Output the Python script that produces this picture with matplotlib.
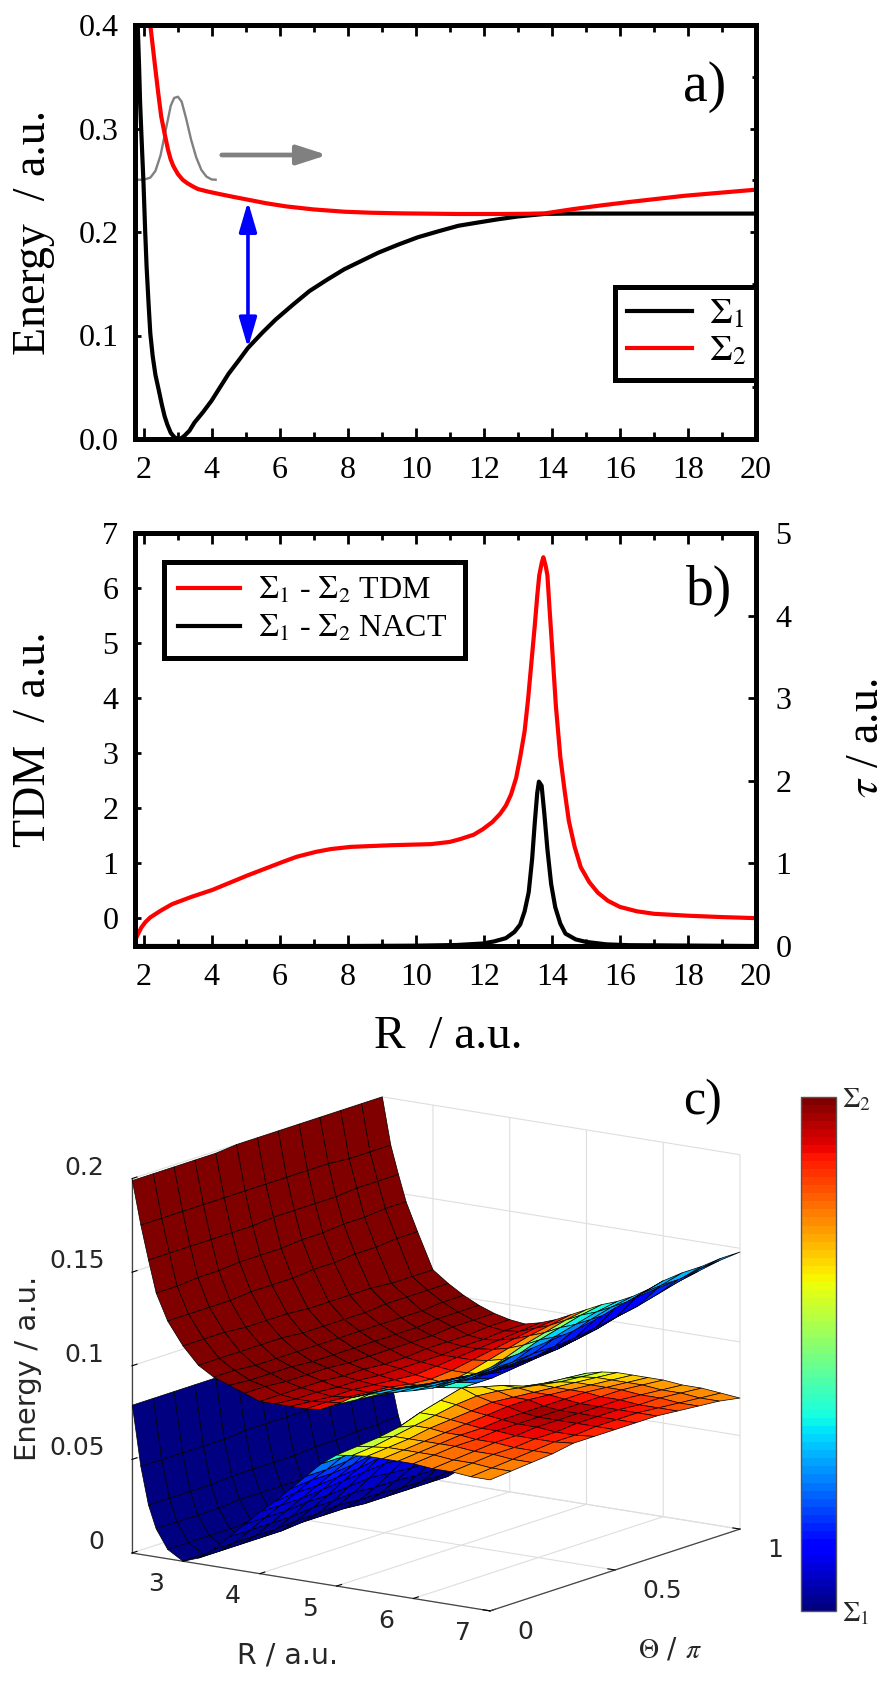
import numpy as np
import matplotlib
matplotlib.use("Agg")
import matplotlib.pyplot as plt
from matplotlib.cm import ScalarMappable
from matplotlib.colors import Normalize
from matplotlib.ticker import MultipleLocator
from mpl_toolkits.mplot3d import proj3d
from mpl_toolkits.mplot3d.art3d import Poly3DCollection

W, H = 896, 1688
plt.rcParams["font.family"] = ["Liberation Serif", "DejaVu Serif"]
plt.rcParams["mathtext.fontset"] = "stix"

# Panel a: potential energy curves
S1_R = [1.83, 1.87, 1.9, 1.95, 2.0, 2.05, 2.09, 2.15, 2.2, 2.27, 2.35, 2.45, 2.54, 2.62, 2.7, 2.8, 2.9, 3.0, 3.1, 3.2,
        3.35, 3.5, 3.75, 4.0, 4.25, 4.5, 4.8, 5.07, 5.5, 5.88, 6.4, 6.88, 7.4, 7.9, 8.4, 8.9, 9.5, 10.07, 10.7, 11.25,
        11.8, 12.4, 13.0, 13.8, 14.5, 16, 18, 20]
S1_E = [.40, .36, .325, .285, .247, .2, .167, .13, .102, .08, .062, .047, .033, .022, .014, .006, .002, .0, .0005, .003,
        .008, .016, .026, .037, .05, .063, .076, .088, .103, .1153, .130, .143, .154, .164, .172, .18, .188, .195, .201,
        .206, .209, .2122, .215, .2175, .2178, .2178, .2178, .2178]
S2_R = [2.2, 2.27, 2.34, 2.43, 2.52, 2.62, 2.72, 2.8, 2.88, 3.01, 3.15, 3.27, 3.45, 3.6, 3.9, 4.2, 4.6, 5.07, 5.6, 6.2,
        7.0, 7.9, 8.7, 9.6, 11.25, 12.5, 13.3, 13.8, 14.6, 15.4, 16.25, 17.9, 20]
S2_E = [.40, .38, .36, .335, .3117, .295, .2796, .27, .2635, .256, .2505, .2475, .244, .2415, .239, .2369, .2342, .2312,
        .2278, .2247, .2218, .2196, .2186, .218, .2174, .2174, .2176, .218, .222, .2255, .2289, .235, .2409]
PACKET_R = [1.8, 2.0, 2.2, 2.35, 2.5, 2.65, 2.8, 2.9, 3.01, 3.12, 3.25, 3.4, 3.55, 3.7, 3.85, 4.0, 4.12]
PACKET_E = [.2505, .2505, .2525, .259, .274, .298, .322, .3295, .3307, .326, .310, .289, .272, .26, .2535, .2508, .2505]

# Panel b: couplings
TDM_R = [1.75, 1.85, 1.93, 2.05, 2.2, 2.5, 2.84, 3.4, 4.03, 4.5, 5.05, 6.06, 6.5, 7.07, 7.5, 8.09, 9.27, 10.45, 11.0,
         11.3, 11.7, 11.97, 12.25, 12.48, 12.65, 12.8, 12.95, 13.07, 13.2, 13.3, 13.4, 13.5, 13.57, 13.63, 13.7, 13.75,
         13.82, 13.87, 13.93, 14.0, 14.12, 14.25, 14.38, 14.5, 14.67, 14.85, 15.1, 15.35, 15.65, 16, 16.5, 17, 18, 19, 20]
TDM_V = [-.40, -.27, -.17, -.07, .02, .14, .26, .39, .52, .64, .78, 1.02, 1.12, 1.21, 1.26, 1.30, 1.33, 1.35, 1.39,
         1.44, 1.52, 1.62, 1.75, 1.9, 2.05, 2.25, 2.55, 2.93, 3.4, 3.97, 4.65, 5.33, 5.85, 6.23, 6.45, 6.56,
         6.4, 6.23, 5.65, 5.0, 3.85, 2.93, 2.3, 1.77, 1.3, .93, .66, .47, .32, .21, .13, .085, .05, .025, .006]
NACT_R = [1.75, 8, 10, 11.2, 11.97, 12.3, 12.65, 12.9, 13.07, 13.2, 13.32, 13.42, 13.5, 13.57, 13.62, 13.7, 13.78, 13.87,
          13.98, 14.1, 14.25, 14.4, 14.7, 15, 15.6, 16.25, 20]
NACT_V = [.0, .0, .004, .012, .03, .055, .095, .17, .26, .42, .65, 1.05, 1.5, 1.85, 1.99, 1.94, 1.6, 1.17,
          .75, .47, .27, .15, .08, .05, .02, .01, .0]

# Panel c: surfaces on an (R, theta) mesh, energies in 1e-3 a.u., character in percent
R_GRID = [2.34, 2.45, 2.55, 2.65, 2.8, 3.0, 3.2, 3.4, 3.6, 3.8, 4.0, 4.2, 4.4, 4.6, 4.8, 5.0, 5.2, 5.4, 5.6, 5.8,
          6.0, 6.25, 6.5, 6.75, 7.0]
THETA_GRID = [0, 1/12, 2/12, 3/12, 4/12, 5/12, 6/12, 7/12, 8/12, 9/12, 10/12, 11/12, 1]
S1_Z = [
    [79, 79, 79, 79, 79, 78, 78, 78, 78, 77, 77, 77, 77],
    [47, 47, 47, 47, 47, 48, 48, 48, 48, 49, 49, 50, 50],
    [27, 27, 27, 27, 28, 28, 28, 28, 29, 29, 30, 30, 31],
    [15, 15, 15, 15, 16, 16, 16, 16, 16, 17, 17, 17, 18],
    [5, 5, 5, 5, 6, 6, 6, 6, 6, 6, 6, 6, 6],
    [0, 0, 0, 0, 0, 1, 1, 1, 1, 1, 1, 1, 1],
    [3, 3, 3, 3, 3, 4, 4, 4, 3, 3, 3, 3, 3],
    [9, 9, 9, 9, 10, 10, 11, 10, 10, 9, 9, 9, 9],
    [17, 17, 17, 17, 18, 18, 19, 18, 18, 17, 17, 16, 16],
    [25, 25, 25, 26, 26, 27, 28, 27, 26, 26, 25, 25, 24],
    [33, 33, 33, 34, 35, 36, 37, 36, 35, 35, 34, 33, 33],
    [40, 41, 41, 42, 43, 45, 46, 45, 44, 43, 42, 41, 41],
    [48, 49, 49, 50, 52, 54, 56, 54, 52, 51, 50, 49, 49],
    [56, 56, 57, 59, 61, 64, 66, 64, 61, 59, 58, 57, 57],
    [64, 64, 65, 68, 71, 74, 77, 74, 71, 68, 66, 65, 65],
    [70, 71, 72, 74, 78, 81, 84, 81, 78, 74, 72, 71, 70],
    [71, 72, 74, 76, 78, 80, 81, 80, 78, 76, 74, 73, 72],
    [72, 73, 74, 76, 77, 78, 79, 78, 77, 76, 75, 74, 73],
    [72, 73, 74, 75, 76, 77, 78, 78, 77, 76, 75, 74, 73],
    [72, 73, 74, 75, 75, 76, 76, 76, 76, 76, 75, 74, 73],
    [72, 73, 74, 74, 75, 75, 75, 75, 75, 75, 75, 74, 73],
    [71, 72, 73, 74, 74, 75, 75, 75, 75, 75, 74, 73, 72],
    [71, 72, 73, 73, 74, 74, 75, 75, 75, 74, 74, 73, 72],
    [70, 71, 72, 73, 74, 74, 75, 75, 75, 74, 73, 72, 71],
    [70, 71, 72, 73, 75, 75, 75, 75, 75, 74, 73, 72, 70],
]
S2_Z = [
    [199, 199, 199, 199, 199, 200, 200, 200, 200, 200, 200, 200, 200],
    [176, 176, 176, 176, 176, 176, 176, 176, 176, 176, 175, 175, 175],
    [158, 158, 158, 158, 158, 158, 159, 159, 159, 159, 160, 160, 160],
    [141, 141, 142, 142, 143, 143, 143, 144, 144, 145, 145, 146, 146],
    [127, 127, 127, 127, 128, 128, 128, 129, 129, 130, 130, 131, 131],
    [115, 115, 115, 114, 114, 114, 113, 113, 113, 113, 112, 112, 112],
    [106, 106, 106, 106, 106, 105, 105, 105, 105, 106, 106, 106, 106],
    [101, 101, 100, 100, 100, 100, 100, 100, 100, 100, 100, 101, 101],
    [98, 97, 97, 97, 96, 96, 96, 96, 96, 96, 97, 97, 97],
    [95, 95, 94, 94, 94, 93, 93, 93, 93, 93, 94, 94, 94],
    [92, 92, 92, 92, 91, 91, 90, 90, 91, 91, 91, 92, 92],
    [92, 91, 91, 90, 90, 89, 89, 89, 89, 90, 90, 91, 91],
    [92, 91, 90, 90, 89, 88, 87, 88, 89, 90, 91, 92, 93],
    [92, 92, 91, 90, 89, 87, 86, 87, 89, 91, 93, 95, 96],
    [93, 93, 92, 90, 89, 87, 85, 87, 90, 93, 96, 98, 100],
    [97, 96, 95, 93, 91, 88, 84, 88, 92, 96, 99, 102, 104],
    [102, 101, 99, 97, 95, 92, 88, 92, 96, 100, 103, 106, 108],
    [105, 104, 102, 100, 98, 95, 92, 95, 99, 103, 106, 109, 111],
    [107, 106, 104, 103, 101, 99, 97, 99, 103, 106, 110, 113, 115],
    [109, 108, 107, 106, 104, 103, 102, 104, 107, 110, 114, 117, 120],
    [111, 110, 110, 109, 108, 107, 107, 109, 112, 115, 119, 123, 126],
    [114, 114, 113, 113, 113, 113, 113, 115, 118, 121, 125, 129, 132],
    [118, 118, 118, 118, 118, 119, 120, 122, 125, 128, 131, 134, 137],
    [124, 124, 124, 125, 125, 126, 128, 130, 132, 135, 138, 141, 143],
    [130, 132, 133, 134, 135, 137, 140, 142, 143, 144, 145, 147, 148],
]
S1_C = [
    [1] * 13, [1] * 13, [1] * 13, [1] * 13, [1] * 13, [1] * 13, [1] * 13, [2] * 13,
    [4, 4, 4, 4, 4, 5, 5, 5, 4, 4, 4, 4, 4],
    [6, 6, 6, 6, 7, 7, 8, 7, 7, 6, 6, 6, 6],
    [9, 9, 9, 10, 10, 11, 11, 11, 10, 10, 9, 9, 9],
    [12, 12, 12, 13, 13, 14, 15, 14, 13, 13, 12, 12, 12],
    [15, 15, 16, 17, 18, 19, 20, 19, 18, 17, 16, 15, 15],
    [19, 19, 20, 22, 25, 28, 31, 28, 25, 22, 20, 19, 19],
    [28, 29, 31, 34, 38, 43, 47, 43, 38, 34, 31, 29, 29],
    [54, 54, 55, 57, 59, 61, 63, 61, 59, 57, 54, 52, 50],
    [63, 63, 64, 66, 69, 72, 75, 73, 70, 66, 63, 61, 60],
    [67, 68, 70, 73, 77, 81, 85, 84, 79, 74, 69, 65, 63],
    [71, 72, 75, 79, 84, 88, 91, 90, 86, 80, 74, 69, 66],
    [74, 75, 78, 83, 88, 92, 95, 94, 90, 85, 78, 73, 69],
    [76, 77, 80, 86, 90, 94, 97, 96, 92, 87, 81, 75, 72],
    [77, 78, 81, 86, 90, 93, 96, 96, 93, 88, 82, 76, 73],
    [76, 77, 80, 84, 88, 91, 93, 93, 91, 87, 81, 76, 74],
    [76, 77, 79, 82, 85, 87, 89, 90, 88, 85, 80, 76, 75],
    [75, 76, 78, 80, 82, 84, 85, 86, 85, 83, 80, 77, 76],
]
S2_C = [
    [99] * 13, [99] * 13, [99] * 13, [99] * 13, [99] * 13, [99] * 13, [99] * 13, [99] * 13, [99] * 13,
    [98] * 13,
    [97, 97, 97, 97, 96, 96, 96, 96, 96, 97, 97, 97, 97],
    [96, 96, 96, 96, 95, 95, 94, 95, 95, 96, 96, 96, 96],
    [94, 94, 94, 93, 92, 91, 90, 91, 92, 93, 94, 94, 95],
    [92, 92, 91, 90, 88, 86, 84, 86, 88, 90, 91, 92, 92],
    [87, 86, 85, 83, 80, 76, 72, 76, 80, 83, 85, 86, 86],
    [70, 69, 67, 63, 58, 54, 50, 54, 58, 63, 67, 69, 70],
    [40, 40, 38, 36, 33, 30, 27, 29, 32, 36, 39, 41, 42],
    [33, 32, 30, 27, 23, 19, 16, 17, 22, 27, 31, 35, 37],
    [32, 30, 27, 23, 18, 13, 10, 11, 15, 21, 27, 32, 34],
    [34, 32, 27, 22, 17, 12, 8, 9, 13, 18, 24, 30, 33],
    [35, 32, 27, 22, 16, 10, 7, 8, 12, 17, 23, 30, 33],
    [33, 30, 26, 21, 15, 10, 7, 8, 12, 16, 22, 29, 32],
    [30, 28, 24, 20, 15, 11, 9, 10, 12, 16, 22, 28, 31],
    [26, 25, 22, 19, 15, 13, 12, 12, 13, 17, 22, 27, 30],
    [24, 23, 21, 19, 17, 16, 15, 15, 16, 18, 22, 26, 28],
]

X_TICKS = [2, 4, 6, 8, 10, 12, 14, 16, 18, 20]
SANS = ["DejaVu Sans"]
TICK_GREY = "#262626"

fig = plt.figure(figsize=(W / 100, H / 100), dpi=100, facecolor="white")


def rect(left, top, right, bottom):
    return [left / W, 1 - bottom / H, (right - left) / W, (bottom - top) / H]


def put(x, y, s, **kw):
    kw.setdefault("ha", "center")
    kw.setdefault("va", "center")
    fig.text(x / W, 1 - y / H, s, **kw)


def style_2d(ax):
    ax.set_xlim(1.75, 20)
    ax.set_xticks(X_TICKS)
    ax.xaxis.set_minor_locator(MultipleLocator(1))
    for s in ax.spines.values():
        s.set_linewidth(3.6)
    ax.tick_params(axis="x", which="major", direction="in", top=True, length=8, width=2, labelsize=23, pad=12)
    ax.tick_params(axis="x", which="minor", direction="in", top=True, length=5, width=2)
    ax.tick_params(axis="y", which="major", direction="in", length=4, width=2, labelsize=23, pad=12)


# ---- a) ----
ax_a = fig.add_axes(rect(135, 25, 756, 439))
style_2d(ax_a)
ax_a.set_ylim(0, 0.4)
ax_a.set_yticks([0, .1, .2, .3, .4])
ax_a.set_yticklabels(["0.0", "0.1", "0.2", "0.3", "0.4"])
ax_a.yaxis.set_minor_locator(MultipleLocator(.05))
ax_a.tick_params(axis="y", which="major", right=True)
ax_a.tick_params(axis="y", which="minor", right=True, left=False, direction="in", length=3, width=2)
ax_a.plot(PACKET_R, PACKET_E, color="#808080", lw=1.7, clip_on=False)
ax_a.plot(S1_R, S1_E, color="black", lw=3, label=r"$\Sigma_1$")
ax_a.plot(S2_R, S2_E, color="red", lw=3, label=r"$\Sigma_2$")
ax_a.annotate("", xy=(7.4, .2744), xytext=(4.3, .2744),
              arrowprops=dict(arrowstyle="-|>,head_length=1.3,head_width=0.42", color="#808080", lw=3.4,
                              shrinkA=0, shrinkB=0, mutation_scale=14))
ax_a.annotate("", xy=(5.07, .2295), xytext=(5.07, .088),
              arrowprops=dict(arrowstyle="<|-|>,head_length=1.3,head_width=0.38", color="#0000ff", lw=2.6,
                              shrinkA=0, shrinkB=0, mutation_scale=14))
ax_a.legend(loc="lower left", bbox_to_anchor=(0.773, 0.1425, 0.227, 0.234), mode="expand", borderaxespad=0, fontsize=26,
            fancybox=False, edgecolor="black", framealpha=1, handlelength=1.8, handletextpad=0.47, borderpad=0.32,
            labelspacing=0.1).get_frame().set_linewidth(3.6)

# ---- b) ----
ax_b = fig.add_axes(rect(135, 533, 756, 946))
style_2d(ax_b)
ax_b.set_ylim(-0.5, 7)
ax_b.set_yticks(range(0, 8))
ax_b.plot(TDM_R, TDM_V, color="red", lw=3, label=r"$\Sigma_1$ - $\Sigma_2$ TDM")
ax_r = ax_b.twinx()
for s in ax_r.spines.values():
    s.set_linewidth(3.6)
ax_r.set_ylim(0, 5)
ax_r.set_yticks(range(0, 6))
ax_r.tick_params(axis="y", which="major", direction="in", length=6, width=2, labelsize=23, pad=14)
ax_r.plot(NACT_R, NACT_V, color="black", lw=3, label=r"$\Sigma_1$ - $\Sigma_2$ NACT")
h1, l1 = ax_b.get_legend_handles_labels()
h2, l2 = ax_r.get_legend_handles_labels()
ax_r.legend(h1 + h2, l1 + l2, loc="upper left", bbox_to_anchor=(0.0467, 0.9305, 0.485, 0.0), mode="expand",
            borderaxespad=0, fontsize=23, fancybox=False, edgecolor="black", framealpha=1, handlelength=1.94,
            handletextpad=0.55, borderpad=0.44, labelspacing=0.25).get_frame().set_linewidth(3.6)

# ---- c) ----
ax_c = fig.add_axes(rect(100, 900, 900, 1700), projection="3d", proj_type="ortho")
ax_c.set_facecolor("none")
ax_c.patch.set_visible(False)
ax_c.view_init(elev=13.3, azim=-54.9)
ax_c.set_box_aspect((438, 435, 385))
ax_c.set_xlim(2.335, 7, view_margin=0)
ax_c.set_ylim(0, 1, view_margin=0)
ax_c.set_zlim(0, 0.2, view_margin=0)
ax_c.set_xticks([3, 4, 5, 6, 7])
ax_c.set_yticks([0, .5, 1])
ax_c.set_yticklabels(["0", "0.5", "1"], fontfamily=SANS)
ax_c.set_zticks([0, .05, .1, .15, .2])
ax_c.set_zticklabels(["0", "0.05", "0.1", "0.15", "0.2"], fontfamily=SANS)
ax_c.set_xticklabels(["3", "4", "5", "6", "7"], fontfamily=SANS)
for axis in (ax_c.xaxis, ax_c.yaxis, ax_c.zaxis):
    axis.set_pane_color((1, 1, 1, 0))
    axis.pane.set_edgecolor("none")
    axis.line.set_color("#444444")
    axis.line.set_linewidth(0.9)
    axis._axinfo["grid"].update(color="#dedede", linewidth=0.8)
    axis._axinfo["tick"].update(inward_factor=0.0, outward_factor=0.25, linewidth={True: 0.8, False: 0.8},
                                color="#444444")
ax_c.zaxis.set_ticks_position("lower")
ax_c.tick_params(labelsize=18, labelcolor=TICK_GREY)
ax_c.tick_params(axis="z", pad=4)
ax_c.tick_params(axis="x", pad=12)
ax_c.tick_params(axis="y", pad=12)
for t in ax_c.xaxis.get_ticklabels():
    t.set_ha("right")
    t.set_va("bottom")
for t in ax_c.yaxis.get_ticklabels():
    t.set_ha("left")
    t.set_va("bottom")
for t in ax_c.zaxis.get_ticklabels():
    t.set_ha("right")
    t.set_va("bottom")

jet = plt.get_cmap("jet", 64)
Rg = np.array(R_GRID)
Tg = np.array(THETA_GRID)
verts, faces = [], []
for Z, C in ((S1_Z, S1_C), (S2_Z, S2_C)):
    Z = np.array(Z) / 1000.0
    C = np.array(C) / 100.0
    for i in range(len(Rg) - 1):
        for j in range(len(Tg) - 1):
            verts.append([(Rg[i], Tg[j], Z[i, j]), (Rg[i + 1], Tg[j], Z[i + 1, j]),
                          (Rg[i + 1], Tg[j + 1], Z[i + 1, j + 1]), (Rg[i], Tg[j + 1], Z[i, j + 1])])
            faces.append(jet(C[i:i + 2, j:j + 2].mean()))
mesh = Poly3DCollection(verts, facecolors=faces, edgecolors="black", linewidths=0.5, zsort="average")
ax_c.add_collection3d(mesh, autolim=False)

# Place the projected box so its front-left and back-right floor corners land where wanted
fig.canvas.draw()
S0 = ax_c.get_position().width * W
L0 = ax_c.get_position().x0 * W
B0 = ax_c.get_position().y0 * H


def unit_xy(x, y, z):
    px, py, _ = proj3d.proj_transform(x, y, z, ax_c.get_proj())
    dx, dy = ax_c.transData.transform((px, py))
    return (dx - L0) / S0, (dy - B0) / S0


ax0, ay0 = unit_xy(2.335, 0, 0)
cx0, cy0 = unit_xy(7, 1, 0)
S = (740 - 132) / (cx0 - ax0)
L = 132 - S * ax0
B = (H - 1553) - S * ay0
ax_c.set_position([L / W, B / H, S / W, S / H])

cax = fig.add_axes(rect(801, 1097, 836, 1611))
cbar = fig.colorbar(ScalarMappable(Normalize(0, 1), jet), cax=cax)
cbar.set_ticks([0, 1])
cbar.set_ticklabels([r"$\Sigma_1$", r"$\Sigma_2$"])
cbar.ax.tick_params(length=0, labelsize=20, pad=4, labelcolor=TICK_GREY)
cbar.outline.set_edgecolor("#555555")
cbar.outline.set_linewidth(1)

# ---- figure-level labels ----
label_kw = dict(rotation=90, fontsize=33)
put(34, 232, "Energy  / a.u.", **label_kw)
put(34, 739, "TDM  / a.u.", **label_kw)
put(867, 738, r"$\tau$ / a.u.", **label_kw)
put(448, 1037, "R  / a.u.", fontsize=34)
put(705, 87, "a)", fontsize=40)
put(709, 591, "b)", fontsize=40)
put(703, 1102, "c)", fontsize=36)
put(28, 1368, "Energy / a.u.", rotation=90, fontsize=21, family=SANS, color=TICK_GREY)
put(288, 1656, "R / a.u.", fontsize=20.5, family=SANS, color=TICK_GREY)
put(670, 1650, r"$\Theta$ / $\pi$", fontsize=20, family=SANS, color=TICK_GREY)

fig.savefig("out.png", dpi=100)
